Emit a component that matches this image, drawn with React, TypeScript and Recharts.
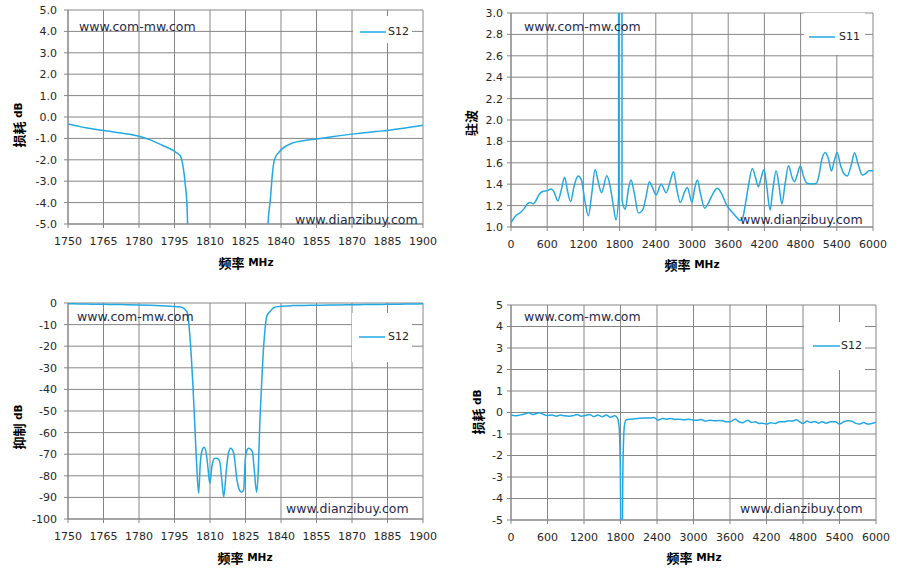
import { LineChart, Line, XAxis, YAxis, CartesianGrid } from 'recharts'

const BLUE = '#22A8E3'
const GRID = '#868686'
const INK = '#262626'
const MARK = '#1F2A4A'
const FONT = '"DejaVu Sans", "Noto Sans CJK SC", sans-serif'

// narrow band S12, 1750-1900 MHz (shown both zoomed in and full depth)
const BAND_FREQ = [
    1750, 1755, 1760, 1765, 1770, 1775, 1780, 1785, 1790, 1793, 1795, 1796.5, 1797.6, 1798.6, 1799.6,
    1800.3, 1800.8, 1801.4, 1802.1, 1802.8, 1803.6, 1804.4, 1805.2, 1805.9, 1806.6, 1807.5, 1808.5,
    1809.2, 1809.9, 1810.8, 1811.8, 1812.9, 1814.1, 1815, 1815.8, 1816.9, 1817.8, 1818.7, 1820,
    1821.4, 1822.4, 1823.3, 1824.2, 1824.9, 1825.5, 1826.3, 1827.9, 1828.7, 1829.7, 1830.4, 1831,
    1831.7, 1832.4, 1833.1, 1833.8, 1834.5, 1835.5, 1836.4, 1837.3, 1839.4, 1845, 1850, 1855, 1860,
    1865, 1870, 1875, 1880, 1885, 1890, 1895, 1900,
]
const BAND_S12 = [
    -0.33, -0.45, -0.55, -0.63, -0.71, -0.79, -0.9, -1.08, -1.33, -1.48, -1.6, -1.72, -1.85, -2.3, -3.2,
    -4.2, -6.5, -13.9, -24.7, -38.6, -57, -76, -88.1, -74.2, -68.5, -66.8, -70.2,
    -77, -83.5, -75.7, -72, -71.9, -73.4, -82, -89.7, -77.3, -69.5, -67.2, -69.5,
    -81.9, -86.5, -87.6, -86.5, -72.6, -68.5, -67.2, -68.8, -77.3, -87.6, -77.3, -57,
    -40.2, -24.7, -13.9, -7, -5, -3.86, -2.62, -1.96, -1.61, -1.21, -1.1, -1.03, -0.95,
    -0.87, -0.8, -0.74, -0.68, -0.63, -0.55, -0.47, -0.39,
]

// wide band S11 VSWR, 0-6000 MHz
const WIDE_S11_FREQ = [
    0, 72, 156, 211, 278, 322, 367, 406, 461, 517, 600, 667, 711, 778, 833, 889, 933, 989, 1044, 1111,
    1167, 1222, 1283, 1339, 1394, 1450, 1500, 1589, 1644, 1694, 1739, 1783, 1795, 1828, 1840, 1850,
    1894, 1944, 1989, 2044, 2111, 2183, 2239, 2294, 2339, 2406, 2489, 2572, 2644, 2694, 2750, 2806,
    2878, 2922, 3000, 3044, 3089, 3139, 3211, 3283, 3350, 3417, 3489, 3572, 3656, 3739, 3794, 3839,
    3878, 3933, 4000, 4055, 4100, 4144, 4194, 4239, 4294, 4339, 4394, 4444, 4489, 4544, 4600, 4655,
    4700, 4750, 4794, 4850, 4905, 4989, 5061, 5100, 5155, 5211, 5267, 5311, 5361, 5405, 5461, 5517,
    5572, 5639, 5694, 5750, 5822, 5878, 5933, 6000,
]
const WIDE_S11 = [
    1.04, 1.1, 1.136, 1.167, 1.22, 1.228, 1.216, 1.24, 1.3, 1.33, 1.34, 1.355, 1.33, 1.244, 1.346, 1.464, 1.346, 1.238, 1.377, 1.476,
    1.44, 1.253, 1.105, 1.315, 1.538, 1.41, 1.32, 1.479, 1.377, 1.207, 1.067, 1.28, 40, 40, 1.25, 1.222,
    1.167, 1.346, 1.44, 1.315, 1.13, 1.16, 1.284, 1.424, 1.377, 1.3, 1.4, 1.32, 1.44, 1.516, 1.346, 1.229,
    1.33, 1.37, 1.23, 1.362, 1.44, 1.315, 1.176, 1.238, 1.315, 1.362, 1.315, 1.207, 1.145, 1.092, 1.061, 1.083,
    1.19, 1.377, 1.547, 1.455, 1.377, 1.455, 1.538, 1.377, 1.16, 1.346, 1.526, 1.377, 1.216, 1.408, 1.572, 1.47,
    1.424, 1.5, 1.569, 1.47, 1.408, 1.402, 1.408, 1.47, 1.64, 1.696, 1.625, 1.523, 1.625, 1.693, 1.578, 1.5,
    1.476, 1.578, 1.693, 1.594, 1.485, 1.5, 1.526, 1.526,
]

// wide band S12 loss, 0-6000 MHz
const WIDE_S12_FREQ = [
    0, 71, 154, 236, 291, 357, 417, 472, 527, 593, 675, 747, 812, 878, 950, 1016, 1087, 1153, 1224, 1290,
    1362, 1427, 1499, 1565, 1636, 1702, 1746, 1775, 1790, 1800, 1808, 1826, 1836, 1848, 1865, 1890,
    1910, 1976, 2075, 2185, 2295, 2350, 2416, 2487, 2558, 2624, 2696, 2761, 2844, 2926, 3000, 3071,
    3125, 3196, 3272, 3343, 3414, 3480, 3534, 3600, 3687, 3741, 3807, 3888, 3959, 4014, 4079, 4134,
    4199, 4270, 4341, 4417, 4488, 4570, 4624, 4690, 4744, 4800, 4870, 4924, 4995, 5060, 5114, 5180,
    5251, 5333, 5398, 5469, 5540, 5594, 5660, 5725, 5796, 5867, 5932, 6000,
]
const WIDE_S12 = [
    -0.12, -0.155, -0.11, -0.06, -0.015, -0.09, -0.05, -0.015, -0.08, -0.14, -0.12, -0.17, -0.12, -0.155, -0.17, -0.155, -0.09, -0.17, -0.14, -0.09,
    -0.19, -0.12, -0.2, -0.12, -0.22, -0.155, -0.23, -0.6, -1.6, -3.5, -8, -8, -3.5, -1.5, -0.6, -0.35,
    -0.325, -0.31, -0.28, -0.25, -0.25, -0.23, -0.36, -0.28, -0.31, -0.28, -0.325, -0.31, -0.34, -0.31, -0.356, -0.356,
    -0.325, -0.4, -0.356, -0.387, -0.37, -0.387, -0.433, -0.433, -0.31, -0.418, -0.48, -0.356, -0.464, -0.433, -0.51, -0.495,
    -0.54, -0.48, -0.51, -0.433, -0.433, -0.387, -0.4, -0.34, -0.433, -0.51, -0.4, -0.464, -0.418, -0.495, -0.433, -0.495,
    -0.433, -0.433, -0.54, -0.433, -0.387, -0.4, -0.495, -0.54, -0.464, -0.54, -0.51, -0.45,
]

const BAND_TICKS = [1750, 1765, 1780, 1795, 1810, 1825, 1840, 1855, 1870, 1885, 1900]
const WIDE_TICKS = [0, 600, 1200, 1800, 2400, 3000, 3600, 4200, 4800, 5400, 6000]
const LOSS_TICKS = [-5, -4, -3, -2, -1, 0, 1, 2, 3, 4, 5]
const VSWR_TICKS = [1.0, 1.2, 1.4, 1.6, 1.8, 2.0, 2.2, 2.4, 2.6, 2.8, 3.0]
const REJ_TICKS = [-100, -90, -80, -70, -60, -50, -40, -30, -20, -10, 0]

const toRows = (xs: number[], ys: number[]) => xs.map((f, i) => ({ f, v: ys[i] }))

const bandData = toRows(BAND_FREQ, BAND_S12)
const s11Data = toRows(WIDE_S11_FREQ, WIDE_S11)
const s12Data = toRows(WIDE_S12_FREQ, WIDE_S12)

const TICK = { fill: INK, fontSize: 11, fontFamily: FONT }

const AxisTitle = ({ x, y, cjk, latin, vertical }: any) => (
    <text
        x={x}
        y={y}
        textAnchor="middle"
        dominantBaseline="central"
        transform={vertical ? `rotate(-90 ${x} ${y})` : undefined}
        fontFamily={FONT}
        fontWeight="bold"
        fill="#000"
    >
        <tspan fontSize={13} fontFamily='"Noto Sans CJK SC", sans-serif'>{cjk}</tspan>
        <tspan fontSize={10.5}>{latin}</tspan>
    </text>
)

// Excel-style legend: white box that hides the gridlines behind it
const LegendBox = ({ name, x, y, w, h, x0, x1, ly, tx }: any) => (
    <div style={{ position: 'absolute', left: x, top: y, width: w, height: h, background: '#fff' }}>
        <svg width={w} height={h} style={{ position: 'absolute', left: 0, top: 0 }}>
            <line x1={x0} x2={x1} y1={ly} y2={ly} stroke={BLUE} strokeWidth={1.5} />
        </svg>
        <span style={{
            position: 'absolute', left: tx, top: ly - 7, fontSize: 11, lineHeight: '14px',
            fontFamily: FONT, color: INK, whiteSpace: 'nowrap',
        }}>{name}</span>
    </div>
)

const Mark = ({ x, y, text }: any) => (
    <div style={{
        position: 'absolute', left: x, top: y - 8, fontSize: 12.5, lineHeight: '16px',
        fontFamily: FONT, color: MARK, whiteSpace: 'nowrap', pointerEvents: 'none',
    }}>{text}</div>
)

function Panel(p: any) {
    const { box, plot, data, xDomain, xTicks, yDomain, yTicks, yFormat, yTitle, xTitle, yTickMargin, name, legend, marks } = p
    return (
        <div style={{ position: 'absolute', left: box.x, top: box.y, width: box.w, height: box.h }}>
            <LineChart
                width={box.w}
                height={box.h}
                data={data}
                margin={{ top: plot.top, right: plot.right, bottom: box.h - plot.bottom - 30, left: 0 }}
            >
                <CartesianGrid stroke={GRID} strokeWidth={1} />
                <XAxis
                    type="number"
                    dataKey="f"
                    domain={xDomain}
                    ticks={xTicks}
                    interval={0}
                    allowDataOverflow
                    height={30}
                    tickSize={4}
                    tickMargin={9}
                    tick={TICK}
                    axisLine={{ stroke: GRID }}
                    tickLine={{ stroke: GRID }}
                    label={{ content: () => <AxisTitle x={xTitle.x} y={xTitle.y} cjk="频率" latin=" MHz" /> }}
                />
                <YAxis
                    type="number"
                    domain={yDomain}
                    ticks={yTicks}
                    interval={0}
                    allowDataOverflow
                    width={plot.left}
                    tickSize={4}
                    tickMargin={yTickMargin}
                    tickFormatter={yFormat}
                    tick={TICK}
                    axisLine={{ stroke: GRID }}
                    tickLine={{ stroke: GRID }}
                    label={{ content: () => <AxisTitle x={yTitle.x} y={yTitle.y} cjk={yTitle.cjk} latin={yTitle.latin} vertical /> }}
                />
                <Line
                    type="monotone"
                    dataKey="v"
                    name={name}
                    stroke={BLUE}
                    strokeWidth={1.5}
                    dot={false}
                    isAnimationActive={false}
                />
            </LineChart>
            <LegendBox name={name} {...legend} />
            {marks.map((m: any) => <Mark key={m.text} {...m} />)}
        </div>
    )
}

const fixed1 = (v: number) => v.toFixed(1)
const plain = (v: number) => String(v)

export default function App() {
    return (
        <div style={{ position: 'absolute', left: 0, top: 0, width: 900, height: 577, background: '#fff' }}>
            <Panel
                box={{ x: 0, y: 0, w: 450, h: 287 }}
                plot={{ left: 68, right: 27, top: 10, bottom: 224 }}
                data={bandData}
                xDomain={[1750, 1900]}
                xTicks={BAND_TICKS}
                yDomain={[-5, 5]}
                yTicks={LOSS_TICKS}
                yFormat={fixed1}
                yTickMargin={7}
                yTitle={{ x: 17.5, y: 125, cjk: '损耗', latin: ' dB' }}
                xTitle={{ x: 246, y: 262 }}
                name="S12"
                legend={{ x: 353, y: 16, w: 59, h: 27, x0: 7, x1: 33, ly: 16, tx: 35 }}
                marks={[
                    { x: 79, y: 27, text: 'www.com-mw.com' },
                    { x: 295, y: 220, text: 'www.dianzibuy.com' },
                ]}
            />
            <Panel
                box={{ x: 450, y: 0, w: 450, h: 287 }}
                plot={{ left: 61, right: 27, top: 13, bottom: 227 }}
                data={s11Data}
                xDomain={[0, 6000]}
                xTicks={WIDE_TICKS}
                yDomain={[1, 3]}
                yTicks={VSWR_TICKS}
                yFormat={fixed1}
                yTickMargin={4}
                yTitle={{ x: 20, y: 123, cjk: '驻波', latin: '' }}
                xTitle={{ x: 242, y: 264 }}
                name="S11"
                legend={{ x: 354, y: 13, w: 61, h: 42, x0: 5, x1: 31, ly: 24, tx: 35 }}
                marks={[
                    { x: 74, y: 27, text: 'www.com-mw.com' },
                    { x: 290, y: 220, text: 'www.dianzibuy.com' },
                ]}
            />
            <Panel
                box={{ x: 0, y: 290, w: 450, h: 287 }}
                plot={{ left: 68, right: 27, top: 13, bottom: 229 }}
                data={bandData}
                xDomain={[1750, 1900]}
                xTicks={BAND_TICKS}
                yDomain={[-100, 0]}
                yTicks={REJ_TICKS}
                yFormat={plain}
                yTickMargin={7}
                yTitle={{ x: 17.5, y: 137, cjk: '抑制', latin: ' dB' }}
                xTitle={{ x: 245, y: 267 }}
                name="S12"
                legend={{ x: 352, y: 23, w: 60, h: 49, x0: 7, x1: 33, ly: 24, tx: 36 }}
                marks={[
                    { x: 77, y: 27, text: 'www.com-mw.com' },
                    { x: 286, y: 219, text: 'www.dianzibuy.com' },
                ]}
            />
            <Panel
                box={{ x: 450, y: 290, w: 450, h: 287 }}
                plot={{ left: 61, right: 24, top: 15, bottom: 230 }}
                data={s12Data}
                xDomain={[0, 6000]}
                xTicks={WIDE_TICKS}
                yDomain={[-5, 5]}
                yTicks={LOSS_TICKS}
                yFormat={plain}
                yTickMargin={4}
                yTitle={{ x: 26.5, y: 122, cjk: '损耗', latin: ' dB' }}
                xTitle={{ x: 244, y: 267 }}
                name="S12"
                legend={{ x: 354, y: 32, w: 61, h: 48, x0: 9, x1: 36, ly: 24, tx: 37 }}
                marks={[
                    { x: 74, y: 27, text: 'www.com-mw.com' },
                    { x: 290, y: 219, text: 'www.dianzibuy.com' },
                ]}
            />
        </div>
    )
}
